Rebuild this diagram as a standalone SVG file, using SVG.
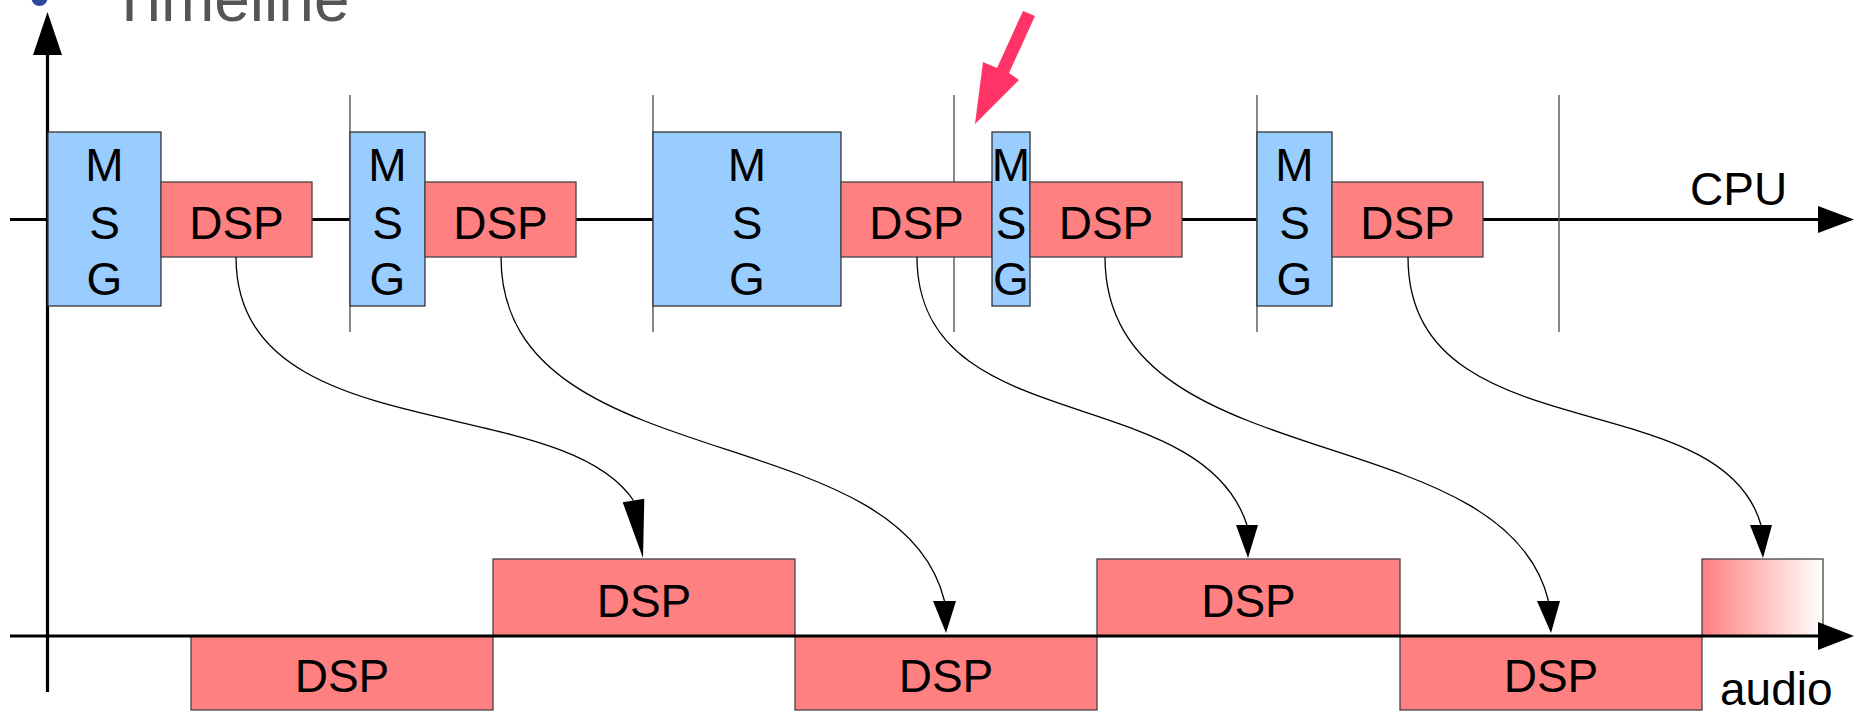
<svg xmlns="http://www.w3.org/2000/svg" width="1854" height="711" viewBox="0 0 1854 711">
  <style>
    .msg { fill: #99ccff; stroke: #333333; stroke-width: 1.3; }
    .dsp { fill: #ff8080; stroke: #444444; stroke-width: 1.3; }
    .lbl { font-family: "Liberation Sans", Arial, sans-serif; font-size: 46px; fill: #000000; text-anchor: middle; }
    .axis { stroke: #000000; stroke-width: 3.2; fill: none; }
    .div { stroke: #555555; stroke-width: 1.4; }
    .curve { stroke: #000000; stroke-width: 1.3; fill: none; }
    .head { fill: #000000; }
  </style>
  <defs>
    <linearGradient id="fade" x1="0" y1="0" x2="1" y2="0">
      <stop offset="0" stop-color="#ff8080"/>
      <stop offset="1" stop-color="#ffffff"/>
    </linearGradient>
  </defs>
  <rect width="1854" height="711" fill="#ffffff"/>

  <g id="title">
    <circle cx="39.5" cy="-2" r="8" fill="#2e4a9e"/>
    <text x="110" y="21" font-family="'Liberation Sans', Arial, sans-serif" font-size="64" fill="#555555">Timeline</text>
  </g>

  <g id="axes">
    <line class="axis" x1="47.5" y1="50" x2="47.5" y2="692"/>
    <polygon class="head" points="47.5,12 33,55 62,55"/>
    <line class="axis" x1="10" y1="219.5" x2="1822" y2="219.5"/>
    <polygon class="head" points="1854,219.5 1818,206 1818,233"/>
  </g>

  <g id="dividers">
    <line class="div" x1="350" y1="95" x2="350" y2="332"/>
    <line class="div" x1="653" y1="95" x2="653" y2="332"/>
    <line class="div" x1="954" y1="95" x2="954" y2="332"/>
    <line class="div" x1="1257" y1="95" x2="1257" y2="332"/>
    <line class="div" x1="1559" y1="95" x2="1559" y2="332"/>
  </g>

  <g id="msg1"><rect class="msg" x="48" y="132" width="113" height="174"/>
    <text class="lbl" x="104.5" y="181">M</text><text class="lbl" x="104.5" y="239">S</text><text class="lbl" x="104.5" y="295">G</text></g>
  <g id="dsp1"><rect class="dsp" x="161" y="182" width="151" height="75"/><text class="lbl" x="236.5" y="239">DSP</text></g>
  <g id="msg2"><rect class="msg" x="350" y="132" width="75" height="174"/>
    <text class="lbl" x="387.5" y="181">M</text><text class="lbl" x="387.5" y="239">S</text><text class="lbl" x="387.5" y="295">G</text></g>
  <g id="dsp2"><rect class="dsp" x="425" y="182" width="151" height="75"/><text class="lbl" x="500.5" y="239">DSP</text></g>
  <g id="msg3"><rect class="msg" x="653" y="132" width="188" height="174"/>
    <text class="lbl" x="747" y="181">M</text><text class="lbl" x="747" y="239">S</text><text class="lbl" x="747" y="295">G</text></g>
  <g id="dsp3"><rect class="dsp" x="841" y="182" width="151" height="75"/><text class="lbl" x="916.5" y="239">DSP</text></g>
  <g id="msg4"><rect class="msg" x="992" y="132" width="38" height="174"/>
    <text class="lbl" x="1011" y="181">M</text><text class="lbl" x="1011" y="239">S</text><text class="lbl" x="1011" y="295">G</text></g>
  <g id="dsp4"><rect class="dsp" x="1030" y="182" width="152" height="75"/><text class="lbl" x="1106" y="239">DSP</text></g>
  <g id="msg5"><rect class="msg" x="1257" y="132" width="75" height="174"/>
    <text class="lbl" x="1294.5" y="181">M</text><text class="lbl" x="1294.5" y="239">S</text><text class="lbl" x="1294.5" y="295">G</text></g>
  <g id="dsp5"><rect class="dsp" x="1332" y="182" width="151" height="75"/><text class="lbl" x="1407.5" y="239">DSP</text></g>

  <g id="cpu-label"><text x="1690" y="205" font-family="'Liberation Sans', Arial, sans-serif" font-size="46">CPU</text></g>

  <g id="audio-dsp1"><rect class="dsp" x="191" y="636" width="302" height="74"/><text class="lbl" x="342" y="692">DSP</text></g>
  <g id="audio-dsp2"><rect class="dsp" x="493" y="559" width="302" height="77"/><text class="lbl" x="644" y="617">DSP</text></g>
  <g id="audio-dsp3"><rect class="dsp" x="795" y="636" width="302" height="74"/><text class="lbl" x="946" y="692">DSP</text></g>
  <g id="audio-dsp4"><rect class="dsp" x="1097" y="559" width="303" height="77"/><text class="lbl" x="1248.5" y="617">DSP</text></g>
  <g id="audio-dsp5"><rect class="dsp" x="1400" y="636" width="302" height="74"/><text class="lbl" x="1551" y="692">DSP</text></g>
  <g id="audio-fade"><rect x="1702" y="559" width="121" height="77" fill="url(#fade)" stroke="#444444" stroke-width="1.3"/></g>

  <g id="audio-axis">
    <line class="axis" x1="10" y1="636" x2="1822" y2="636"/>
    <polygon class="head" points="1854,636 1818,622 1818,650"/>
    <text x="1720" y="705" font-family="'Liberation Sans', Arial, sans-serif" font-size="46">audio</text>
  </g>

  <g id="connectors">
    <path class="curve" d="M236,257 C236,450 560,390 633.5,500.5"/>
    <polygon class="head" points="622.7,502.3 644.3,498.7 643,558"/>
    <path class="curve" d="M501,257 C501,480 900,415 944.5,601"/>
    <polygon class="head" points="933,601 956,601 946,633"/>
    <path class="curve" d="M917,257 C917,440 1200,380 1247,525"/>
    <polygon class="head" points="1236,525 1258,525 1248,558"/>
    <path class="curve" d="M1105,257 C1105,480 1504,415 1548.5,601"/>
    <polygon class="head" points="1537,601 1560,601 1551,633"/>
    <path class="curve" d="M1408,257 C1408,455 1720,380 1761,525"/>
    <polygon class="head" points="1750,525 1772,525 1763,558"/>
  </g>

  <g id="pointer">
    <polygon points="1023,11 1035,16 1009,73 1019,80 975,124 983,62 997,68" fill="#ff3366"/>
  </g>
</svg>
